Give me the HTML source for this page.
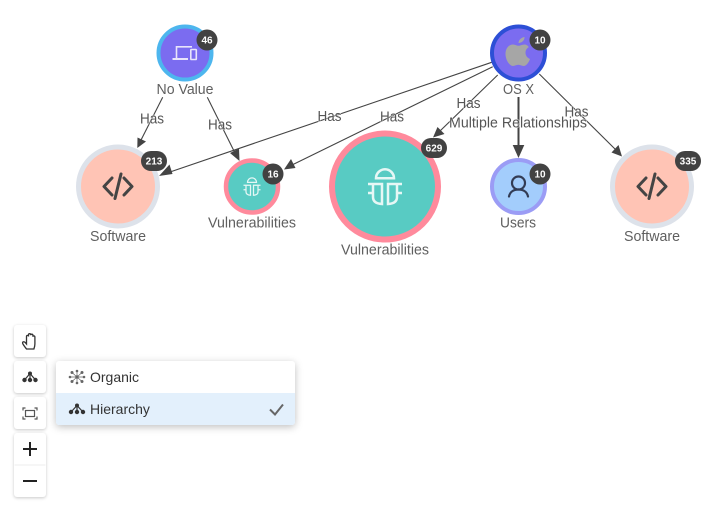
<!DOCTYPE html>
<html><head><meta charset="utf-8"><style>
html,body{margin:0;padding:0;background:#fff}
body{width:710px;height:505px;overflow:hidden;position:relative;font-family:"Liberation Sans",sans-serif}
svg{position:absolute;left:0;top:0}
.l{font-size:15px;fill:#5f5f5f;text-anchor:middle}
.e{font-size:15px;fill:#555;text-anchor:middle;paint-order:stroke;stroke:rgba(255,255,255,.55);stroke-width:1.5px}
.b{font-size:10px;font-weight:bold;fill:#fff;text-anchor:middle}
.btn{position:absolute;left:14px;width:32px;background:#fff;border-radius:3px;box-shadow:0 1px 3px rgba(0,0,0,.22)}
.menu{position:absolute;left:56px;top:361px;width:239px;height:64px;background:#fff;border-radius:3px;box-shadow:0 2px 8px rgba(0,0,0,.25);overflow:hidden}
.row{position:absolute;left:0;width:239px;height:32px;line-height:32px;font-size:14px;color:#333;text-indent:34px}
</style></head><body>
<div class="btn" style="top:325px;height:32px"></div>
<div class="btn" style="top:361px;height:32px"></div>
<div class="btn" style="top:397px;height:32px"></div>
<div class="btn" style="top:433px;height:64px"></div>
<div class="menu"><div class="row" style="top:0">Organic</div><div class="row" style="top:32px;background:#e3f0fc">Hierarchy</div></div>
<svg width="710" height="505" viewBox="0 0 710 505" xmlns="http://www.w3.org/2000/svg">
<g stroke="#444" stroke-width="1.1" fill="none">
<path d="M162.7 97.3L140 142"/><path d="M207.3 97.3L236 155"/><path d="M491.7 62.3L170 172"/><path d="M492.7 66.7L292 165"/><path d="M497.7 75L440 131"/><path d="M539.3 74L616 150"/>
<path d="M518.5 97V148" stroke-width="2"/>
</g>
<g fill="#444">
<path d="M137.3 148L137.5 137.5L146 141.5Z"/>
<path d="M239.5 161L230 153L239 148.5Z"/>
<path d="M159 176L169.5 164.5L172.5 174Z"/>
<path d="M284 169.5L291 159L295.5 168Z"/>
<path d="M433 137.5L437.5 127L444.5 134Z"/>
<path d="M622 156.5L611.5 152.5L618.5 145Z"/>
<path d="M518.5 158L512.7 145H524.3Z"/>
</g>
<!-- nodes -->
<circle cx="185" cy="53" r="26.5" fill="#7b6cf0" stroke="#4db6ee" stroke-width="4"/>
<circle cx="518.5" cy="53" r="26.5" fill="#7b6cf0" stroke="#2d4fd6" stroke-width="4"/>
<circle cx="118" cy="186.5" r="39.5" fill="#ffc4b5" stroke="#dde2ea" stroke-width="5"/>
<circle cx="652" cy="186.5" r="39.5" fill="#ffc4b5" stroke="#dde2ea" stroke-width="5"/>
<circle cx="252" cy="186.5" r="26" fill="#58cbc3" stroke="#ff8a9c" stroke-width="4.5"/>
<circle cx="385" cy="186.5" r="53" fill="#58cbc3" stroke="#ff8a9c" stroke-width="6"/>
<circle cx="518.5" cy="186.5" r="26.5" fill="#a3cdfc" stroke="#9b9cf5" stroke-width="4"/>
<!-- device icon -->
<g fill="none" stroke="#e8e4fb" stroke-width="1.6">
<path d="M176.500 58V46.800H192"/><path d="M172.500 59H188" stroke-width="2"/><rect x="190.800" y="49.500" width="5.500" height="10" rx=".6"/>
</g>
<!-- apple -->
<path d="M518.500 43c.2-3 2.500-5.500 6-6 .2 3.300-2.500 5.800-6 6zM524.500 44.500c-2.500 0-4.200 1.300-6 1.300s-3.300-1.300-5.500-1.300c-4 0-7.500 3.500-7.500 9.500 0 5.500 3.800 12 7.500 12 1.800 0 3.200-1.200 5.300-1.200s3.300 1.200 5.200 1.200c3 0 5.500-4 6.500-7-2.800-1.300-4.500-3.500-4.500-6.300 0-2.700 1.500-4.500 3.300-5.700-1.200-1.700-2.700-2.500-4.300-2.500z" fill="#a6a6a6"/>
<!-- code -->
<g fill="none" stroke="#444" stroke-width="3" stroke-linecap="round" stroke-linejoin="round">
<path d="M112 178L104 186.500L112 195"/><path d="M124 178L132 186.500L124 195"/><path d="M121 174L115 198.500"/>
<path d="M646 178L638 186.500L646 195"/><path d="M658 178L666 186.500L658 195"/><path d="M655 174L649 198.500"/>
</g>
<!-- bugs -->
<defs><g id="bug"><path d="M376 178.300a9 9 0 0 1 18 0zM368 184h14v20q-9-.5-9-7v-13M402 184h-14v20q9-.5 9-7v-13M368 193h5M397 193h5" fill="none" stroke="#e6f7f5" stroke-width="2.500"/></g></defs>
<use href="#bug"/>
<g transform="translate(252 186.500) scale(.5) translate(-385 -186.500)"><use href="#bug"/></g>
<!-- user -->
<g fill="none" stroke="#333c55" stroke-width="2.200" stroke-linecap="round">
<circle cx="518.500" cy="183" r="6.500"/><path d="M509 196.500c1-5 5-7 9.500-7s8.500 2 9.500 7"/>
</g>
<!-- badges -->
<g fill="#424242">
<circle cx="207" cy="40" r="10.500"/><circle cx="540" cy="40" r="10.500"/><circle cx="273" cy="174" r="10.500"/><circle cx="540" cy="174" r="10.500"/>
<rect x="141" y="151" width="26" height="20" rx="10"/><rect x="675" y="151" width="26" height="20" rx="10"/><rect x="421" y="138" width="26" height="20" rx="10"/>
</g>
<text class="b" x="207" y="43.500">46</text><text class="b" x="540" y="43.500">10</text><text class="b" x="273" y="177.500">16</text><text class="b" x="540" y="177.500">10</text>
<text class="b" x="154" y="164.500">213</text><text class="b" x="688" y="164.500">335</text><text class="b" x="434" y="151.500">629</text>
<!-- labels -->
<text class="l" x="185" y="94" textLength="57" lengthAdjust="spacingAndGlyphs">No Value</text>
<text class="l" x="518.500" y="94" textLength="31" lengthAdjust="spacingAndGlyphs">OS X</text>
<text class="l" x="118" y="241" textLength="56" lengthAdjust="spacingAndGlyphs">Software</text>
<text class="l" x="652" y="241" textLength="56" lengthAdjust="spacingAndGlyphs">Software</text>
<text class="l" x="252" y="227.500" textLength="88" lengthAdjust="spacingAndGlyphs">Vulnerabilities</text>
<text class="l" x="385" y="254.500" textLength="88" lengthAdjust="spacingAndGlyphs">Vulnerabilities</text>
<text class="l" x="518" y="227.500" textLength="36" lengthAdjust="spacingAndGlyphs">Users</text>
<text class="e" x="152" y="123.500" textLength="24" lengthAdjust="spacingAndGlyphs">Has</text>
<text class="e" x="220" y="129.500" textLength="24" lengthAdjust="spacingAndGlyphs">Has</text>
<text class="e" x="329.500" y="121" textLength="24" lengthAdjust="spacingAndGlyphs">Has</text>
<text class="e" x="392" y="121.500" textLength="24" lengthAdjust="spacingAndGlyphs">Has</text>
<text class="e" x="468.500" y="108" textLength="24" lengthAdjust="spacingAndGlyphs">Has</text>
<text class="e" x="576.500" y="116.500" textLength="24" lengthAdjust="spacingAndGlyphs">Has</text>
<text class="e" x="518" y="127.500" textLength="138" lengthAdjust="spacingAndGlyphs">Multiple Relationships</text>
<!-- toolbar icons -->
<path d="M26.500 349c-1.500-2-3.200-4-3.800-5.500-.5-1.500 1-2.500 2.500-1l1.300 1.500v-7.500c0-1.500 2-1.500 2 0v-1.700c0-1.500 2.200-1.500 2.200 0v.5c0-1.500 2.200-1.500 2.200 0v1.500c0-1.200 2-1.200 2 .3V344c0 2-.5 3.500-1 5z" fill="none" stroke="#333" stroke-width="1.300"/>
<g fill="#333"><circle cx="30" cy="373.500" r="2"/><circle cx="24.500" cy="380" r="2.200"/><circle cx="30" cy="380" r="2.200"/><circle cx="35.500" cy="380" r="2.200"/><path d="M30 373.500L24.500 380M30 373.500V380M30 373.500L35.500 380" stroke="#333" stroke-width="1.200"/></g>
<g fill="#333"><circle cx="77" cy="405.500" r="2"/><circle cx="71" cy="412" r="2.200"/><circle cx="77" cy="412" r="2.200"/><circle cx="83" cy="412" r="2.200"/><path d="M77 405.500L71 412M77 405.500V412M77 405.500L83 412" stroke="#333" stroke-width="1.200"/></g>
<g fill="none" stroke="#555" stroke-width="1.200">
<rect x="25.500" y="410.500" width="9" height="6"/>
<path d="M23 410.500v-2.500h2.500M37 410.500v-2.500h-2.500M23 416.500v2.500h2.500M37 416.500v2.500h-2.500"/>
</g>
<path d="M30 442v14M23 449h14M23 481h14" stroke="#222" stroke-width="2" fill="none"/>
<path d="M14.500 465H45.500" stroke="#eee"/>
<g fill="#666"><circle cx="77" cy="377" r="1.800"/><circle cx="72" cy="372.500" r="1.500"/><circle cx="82" cy="372.500" r="1.500"/><circle cx="72" cy="381.500" r="1.500"/><circle cx="82" cy="381.500" r="1.500"/><circle cx="70" cy="377" r="1.300"/><circle cx="84" cy="377" r="1.300"/><circle cx="77" cy="371" r="1.300"/><circle cx="77" cy="383" r="1.300"/><path d="M72 372.500L82 381.500M82 372.500L72 381.500M70 377H84M77 371V383" stroke="#666" stroke-width=".7"/></g>
<path d="M270 409.500L275 414.500L283 404.500" fill="none" stroke="#666" stroke-width="2"/>
</svg>
</body></html>
